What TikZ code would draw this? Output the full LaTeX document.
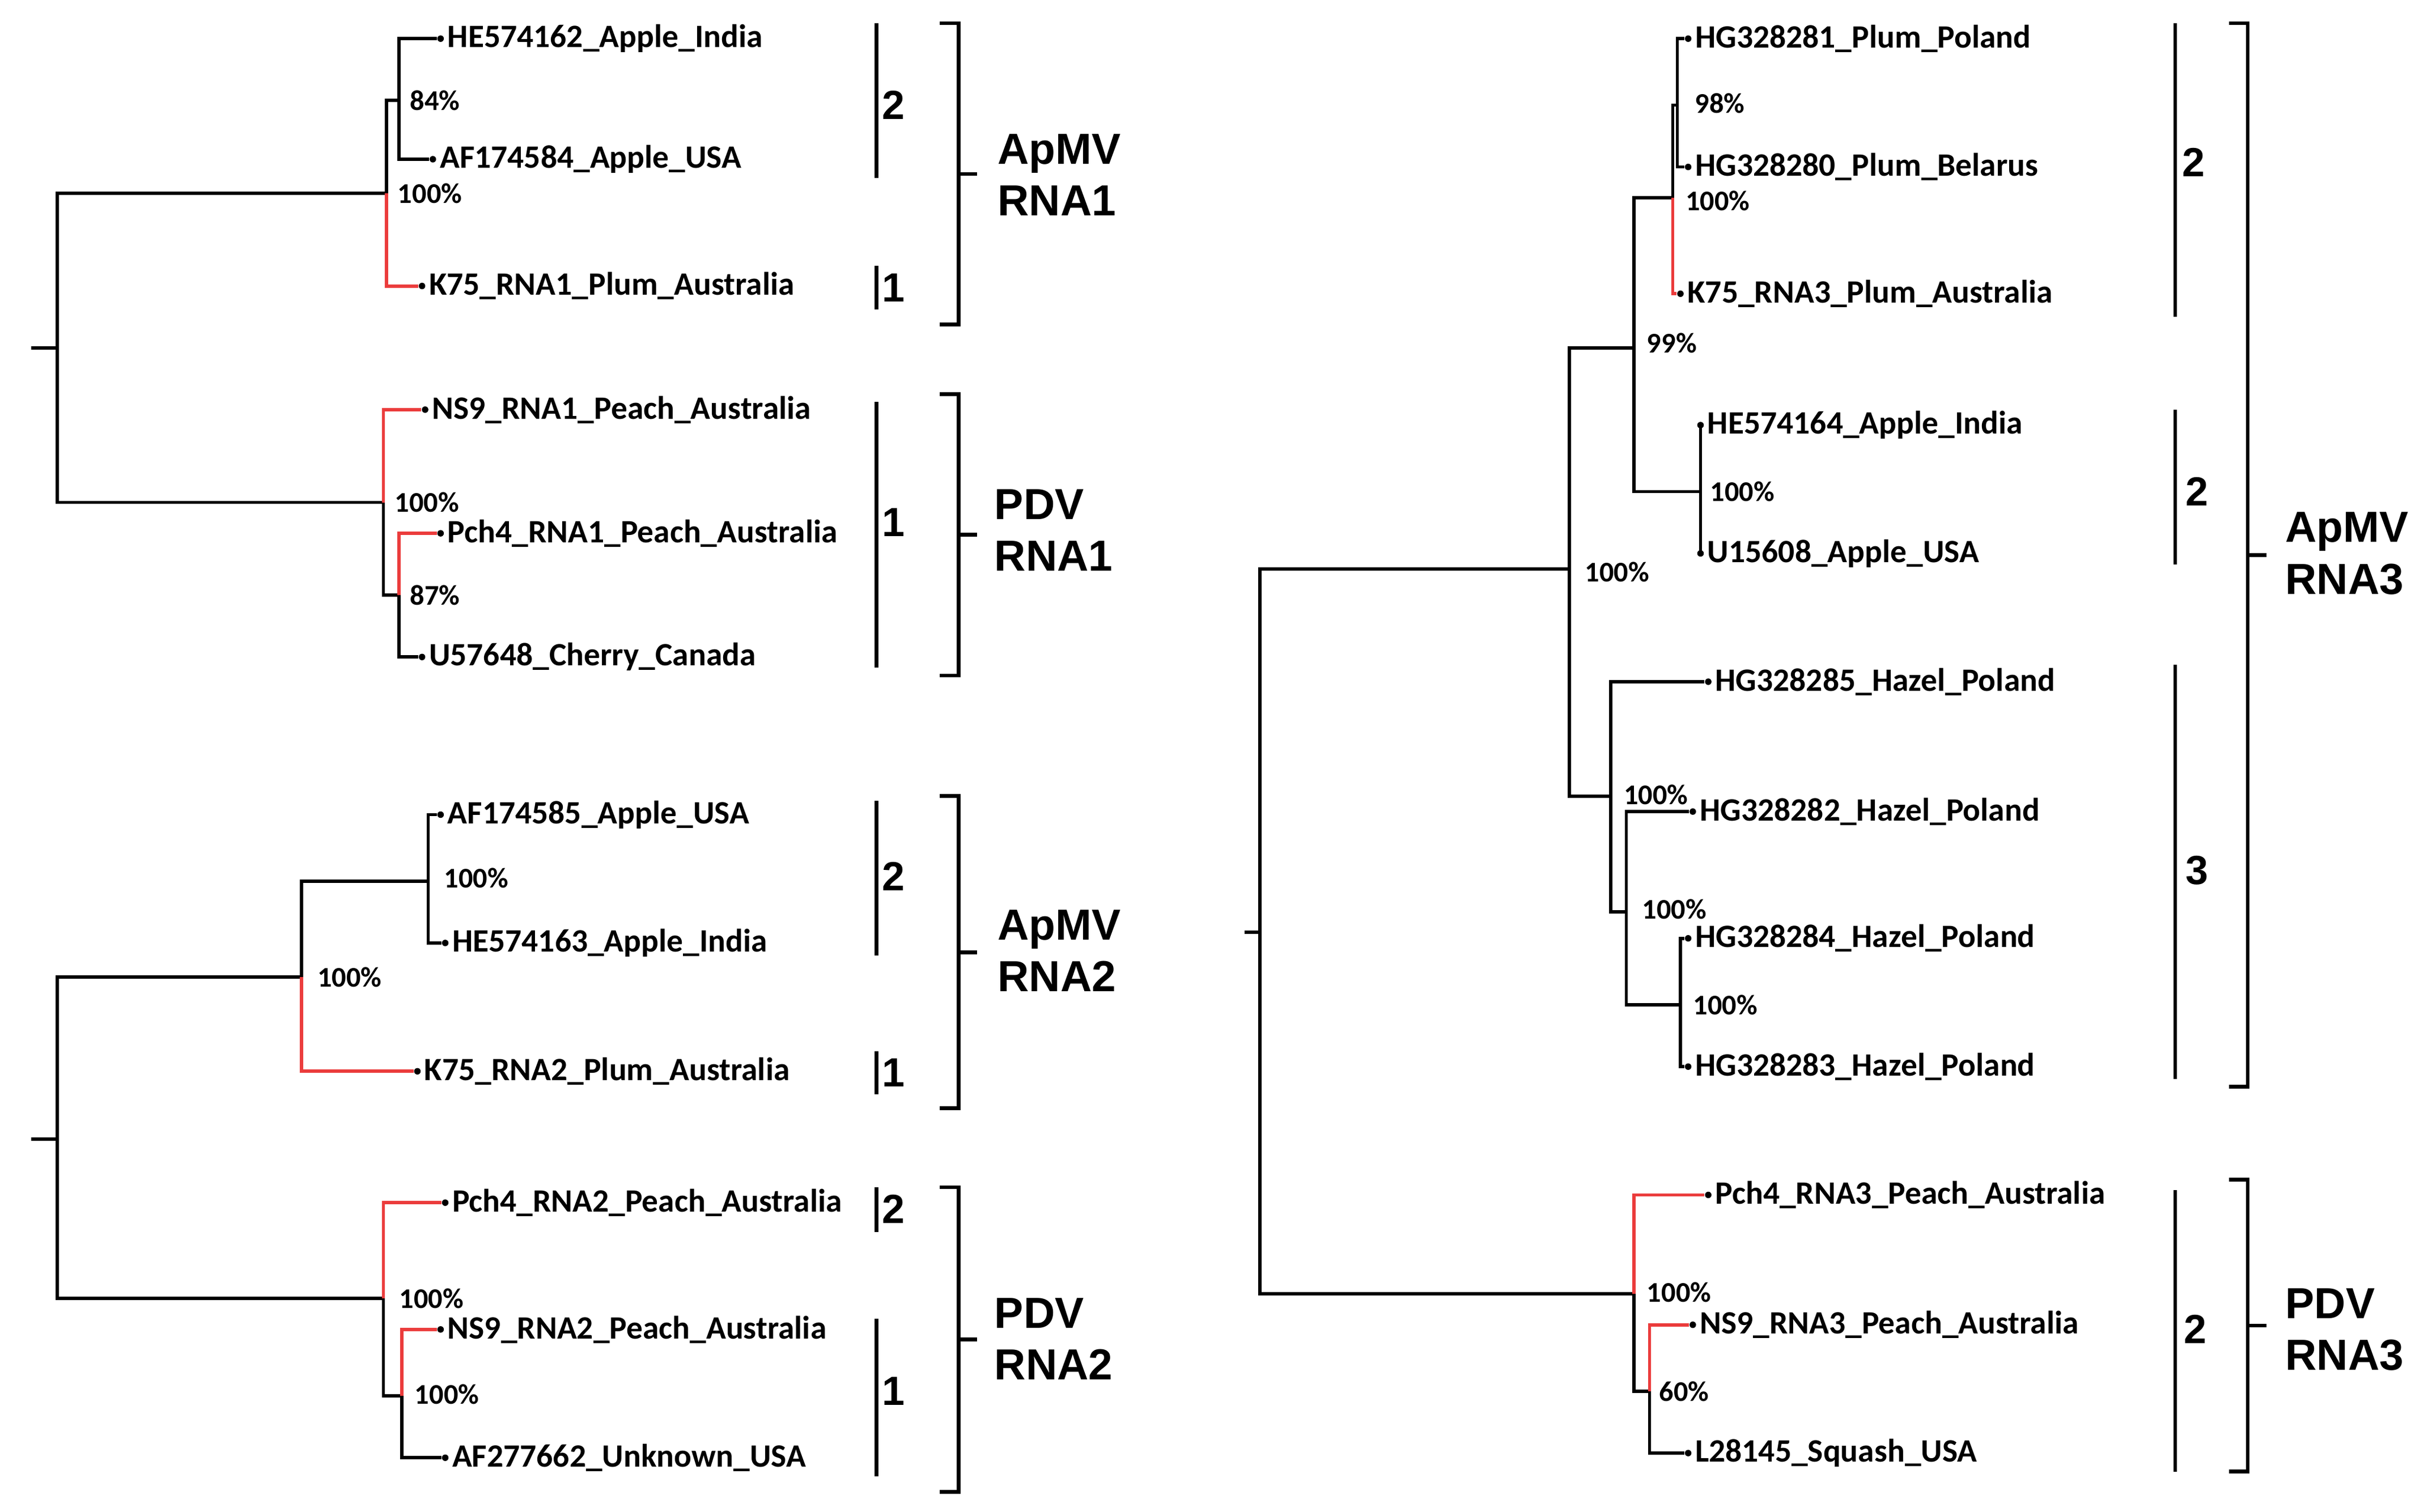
\documentclass[tikz,border=0pt]{standalone}
\usepackage{fontspec}
\setmainfont{Carlito}
\newfontfamily\arialish{Liberation Sans}
\usepackage{xcolor}
\usetikzlibrary{arrows.meta}
\definecolor{kred}{RGB}{235,60,60}
\tikzset{
  br/.style={draw=black,line width=1.2pt},
  rb/.style={draw=kred,line width=1.2pt},
  tip/.style={circle,fill=black,inner sep=0pt,minimum size=2.4pt},
  leaf/.style={font=\bfseries\fontsize{12}{14}\selectfont,inner sep=1pt,anchor=west},
  boot/.style={font=\bfseries\fontsize{10.5}{12}\selectfont,inner sep=0pt,anchor=west},
  grp/.style={font=\arialish\bfseries\fontsize{15}{18}\selectfont,inner sep=0pt},
  virus/.style={font=\arialish\bfseries\fontsize{16}{19}\selectfont,align=left,inner sep=0pt,anchor=west},
  bar/.style={line width=1.4pt},
}
\newcommand{\tip}[4]{\node[tip] (#1) at (#2,#3) {}; \node[leaf] at (#1.east) {#4};}
\newcommand{\brk}[3]{\draw[bar] (#1,#2) -- ++(12,0) -- (#1+12,#3) -- (#1,#3);
  \draw[bar] (#1+12,{(#2+#3)/2}) -- ++(12,0);}
\begin{document}
\begin{tikzpicture}[x=0.02cm,y=-0.02cm]
\useasboundingbox (0,0) rectangle (1568,978);

% ApMV RNA1 + PDV RNA1
\coordinate (r1) at (20,225);
\coordinate (n1) at (37,225);
\coordinate (n2) at (250,125);
\coordinate (n3) at (258,65);
\coordinate (n4) at (248,325);
\coordinate (n5) at (258,385);
\tip{t1}{285}{25}{HE574162\_Apple\_India}
\tip{t2}{280}{103}{AF174584\_Apple\_USA}
\tip{t3}{273}{185}{K75\_RNA1\_Plum\_Australia}
\tip{t4}{275}{265}{NS9\_RNA1\_Peach\_Australia}
\tip{t5}{285}{345}{Pch4\_RNA1\_Peach\_Australia}
\tip{t6}{273}{425}{U57648\_Cherry\_Canada}
\draw[br] (r1) -- (n1) (n1) |- (n2) (n1) |- (n4)
  (n2) |- (n3) (n3) |- (t1) (n3) |- (t2) (n4) |- (n5) (n5) |- (t6);
\draw[rb] (n2) |- (t3) (n4) |- (t4) (n5) |- (t5);
\node[boot] at (265,65) {84\%};
\node[boot] at (257,125) {100\%};
\node[boot] at (255,325) {100\%};
\node[boot] at (265,385) {87\%};

% ApMV RNA2 + PDV RNA2
\coordinate (r2) at (20,737);
\coordinate (m1) at (37,737);
\coordinate (m2) at (195,632);
\coordinate (m3) at (277,570);
\coordinate (m4) at (248,840);
\coordinate (m5) at (260,903);
\tip{u1}{285}{527}{AF174585\_Apple\_USA}
\tip{u2}{288}{610}{HE574163\_Apple\_India}
\tip{u3}{270}{693}{K75\_RNA2\_Plum\_Australia}
\tip{u4}{288}{778}{Pch4\_RNA2\_Peach\_Australia}
\tip{u5}{285}{860}{NS9\_RNA2\_Peach\_Australia}
\tip{u6}{288}{943}{AF277662\_Unknown\_USA}
\draw[br] (r2) -- (m1) (m1) |- (m2) (m1) |- (m4)
  (m2) |- (m3) (m3) |- (u1) (m3) |- (u2) (m4) |- (m5) (m5) |- (u6);
\draw[rb] (m2) |- (u3) (m4) |- (u4) (m5) |- (u5);
\node[boot] at (287,568) {100\%};
\node[boot] at (205,632) {100\%};
\node[boot] at (258,840) {100\%};
\node[boot] at (268,902) {100\%};

% ApMV RNA3 + PDV RNA3
\coordinate (r3) at (805,603);
\coordinate (k1) at (815,603);
\coordinate (k2) at (1015,368);
\coordinate (k3) at (1057,225);
\coordinate (k4) at (1082,128);
\coordinate (k5) at (1085,68);
\coordinate (k6) at (1100,318);
\coordinate (k7) at (1042,515);
\coordinate (k8) at (1052,590);
\coordinate (k9) at (1087,650);
\coordinate (k10) at (1057,837);
\coordinate (k11) at (1067,900);
\tip{v1}{1092}{25}{HG328281\_Plum\_Poland}
\tip{v2}{1092}{108}{HG328280\_Plum\_Belarus}
\tip{v3}{1087}{190}{K75\_RNA3\_Plum\_Australia}
\tip{v4}{1100}{275}{HE574164\_Apple\_India}
\tip{v5}{1100}{358}{U15608\_Apple\_USA}
\tip{v6}{1105}{441}{HG328285\_Hazel\_Poland}
\tip{v7}{1095}{525}{HG328282\_Hazel\_Poland}
\tip{v8}{1092}{607}{HG328284\_Hazel\_Poland}
\tip{v9}{1092}{690}{HG328283\_Hazel\_Poland}
\tip{v10}{1105}{773}{Pch4\_RNA3\_Peach\_Australia}
\tip{v11}{1095}{857}{NS9\_RNA3\_Peach\_Australia}
\tip{v12}{1092}{940}{L28145\_Squash\_USA}
\draw[br] (r3) -- (k1) (k1) |- (k2) (k1) |- (k10)
  (k2) |- (k3) (k2) |- (k7) (k3) |- (k4) (k3) |- (k6)
  (k4) |- (k5) (k5) |- (v1) (k5) |- (v2) (k6) |- (v4) (k6) |- (v5)
  (k7) |- (v6) (k7) |- (k8) (k8) |- (v7) (k8) |- (k9) (k9) |- (v8) (k9) |- (v9)
  (k10) |- (k11) (k11) |- (v12);
\draw[rb] (k4) |- (v3) (k10) |- (v10) (k11) |- (v11);
\node[boot] at (1096,67) {98\%};
\node[boot] at (1090,130) {100\%};
\node[boot] at (1065,222) {99\%};
\node[boot] at (1106,318) {100\%};
\node[boot] at (1025,370) {100\%};
\node[boot] at (1050,514) {100\%};
\node[boot] at (1062,588) {100\%};
\node[boot] at (1095,650) {100\%};
\node[boot] at (1065,836) {100\%};
\node[boot] at (1073,900) {60\%};

% groups and brackets
\draw[bar] (567,15) -- (567,115) (567,172) -- (567,200)
  (567,260) -- (567,432) (567,518) -- (567,618) (567,680) -- (567,708)
  (567,768) -- (567,797) (567,853) -- (567,955)
  (1407,15) -- (1407,205) (1407,265) -- (1407,365) (1407,430) -- (1407,698)
  (1407,770) -- (1407,952);
\node[grp] at (578,68) {2};
\node[grp] at (578,186) {1};
\node[grp] at (578,338) {1};
\node[grp] at (578,567) {2};
\node[grp] at (578,694) {1};
\node[grp] at (578,782) {2};
\node[grp] at (578,900) {1};
\node[grp] at (1419,105) {2};
\node[grp] at (1421,318) {2};
\node[grp] at (1421,563) {3};
\node[grp] at (1420,860) {2};
\brk{608}{15}{210}
\brk{608}{255}{437}
\brk{608}{515}{717}
\brk{608}{768}{965}
\brk{1442}{15}{703}
\brk{1442}{763}{952}
\node[virus] at (645,113) {ApMV\\RNA1};
\node[virus] at (643,343) {PDV\\RNA1};
\node[virus] at (645,615) {ApMV\\RNA2};
\node[virus] at (643,866) {PDV\\RNA2};
\node[virus] at (1478,358) {ApMV\\RNA3};
\node[virus] at (1478,860) {PDV\\RNA3};
\end{tikzpicture}
\end{document}
